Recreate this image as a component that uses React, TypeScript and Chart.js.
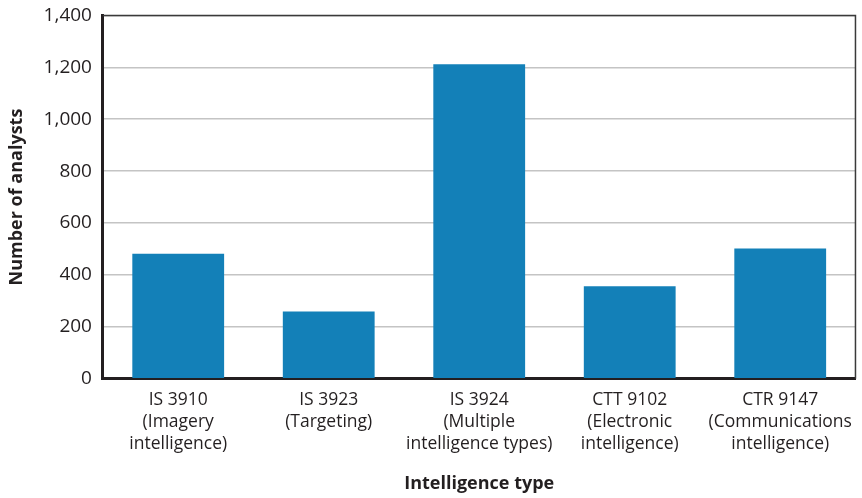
import React, { useEffect, useRef } from "react";
import { Chart, registerables } from "chart.js";

Chart.register(...registerables);

const categories: string[][] = [
  ["IS 3910", "(Imagery", "intelligence)"],
  ["IS 3923", "(Targeting)"],
  ["IS 3924", "(Multiple", "intelligence types)"],
  ["CTT 9102", "(Electronic", "intelligence)"],
  ["CTR 9147", "(Communications", "intelligence)"],
];
const analysts: number[] = [482, 259, 1212, 356, 502];
const yTicks: number[] = [0, 200, 400, 600, 800, 1000, 1200, 1400];

const FONT = "'Open Sans', 'Noto Sans', sans-serif";
const DARK = "#231f20";
const SHIFT = 7;

const framePlugin = {
  id: "frame",
  afterDraw(chart: any) {
    const { ctx, chartArea } = chart;
    ctx.save();
    ctx.strokeStyle = "#3a3a3a";
    ctx.lineWidth = 1.5;
    ctx.beginPath();
    ctx.moveTo(chartArea.left, chartArea.top);
    ctx.lineTo(chartArea.right, chartArea.top);
    ctx.lineTo(chartArea.right, chartArea.bottom);
    ctx.stroke();
    ctx.restore();
  },
};

export default function App() {
  const ref = useRef<HTMLCanvasElement | null>(null);
  useEffect(() => {
    document.body.style.margin = "0";
    const chart = new Chart(ref.current as HTMLCanvasElement, {
      type: "bar",
      data: {
        labels: categories,
        datasets: [
          {
            data: analysts,
            backgroundColor: "#1380b8",
            categoryPercentage: 0.61,
            barPercentage: 1,
          },
        ],
      },
      options: {
        animation: false,
        responsive: false,
        maintainAspectRatio: false,
        layout: { padding: { top: 0, right: 1, left: 0, bottom: 1 } },
        plugins: { legend: { display: false }, tooltip: { enabled: false } },
        scales: {
          x: {
            grid: { display: false, drawTicks: false },
            border: { color: DARK, width: 3 },
            ticks: {
              color: DARK,
              font: { family: FONT, size: 17.5, lineHeight: 1.27 },
              padding: 10,
              maxRotation: 0,
              autoSkip: false,
            },
            title: {
              display: true,
              text: "Intelligence type",
              color: DARK,
              font: { family: FONT, size: 18, weight: "bold" },
              padding: { top: 8, bottom: 2 },
            },
          },
          y: {
            min: 0,
            max: 1400,
            afterBuildTicks: (axis: any) => {
              axis.ticks = yTicks.map((v) => ({ value: v }));
            },
            grid: {
              color: "#c4c4c4",
              lineWidth: 1.5,
              drawTicks: false,
            },
            border: { color: DARK, width: 3 },
            ticks: {
              color: DARK,
              font: { family: FONT, size: 19 },
              padding: 11,
              callback: (v: any) => Number(v).toLocaleString("en-US"),
            },
            title: {
              display: true,
              text: "Number of analysts",
              color: DARK,
              font: { family: FONT, size: 18, weight: "bold" },
              padding: { top: 6, bottom: 5 },
            },
          },
        },
      },
      plugins: [framePlugin],
    } as any);
    return () => chart.destroy();
  }, []);
  return (
    <div style={{ width: 862, height: 498, overflow: "hidden", position: "relative" }}>
      <canvas
        ref={ref}
        width={862}
        height={498 + SHIFT}
        style={{ width: 862, height: 498 + SHIFT, position: "absolute", left: 0, top: -SHIFT }}
      />
    </div>
  );
}
